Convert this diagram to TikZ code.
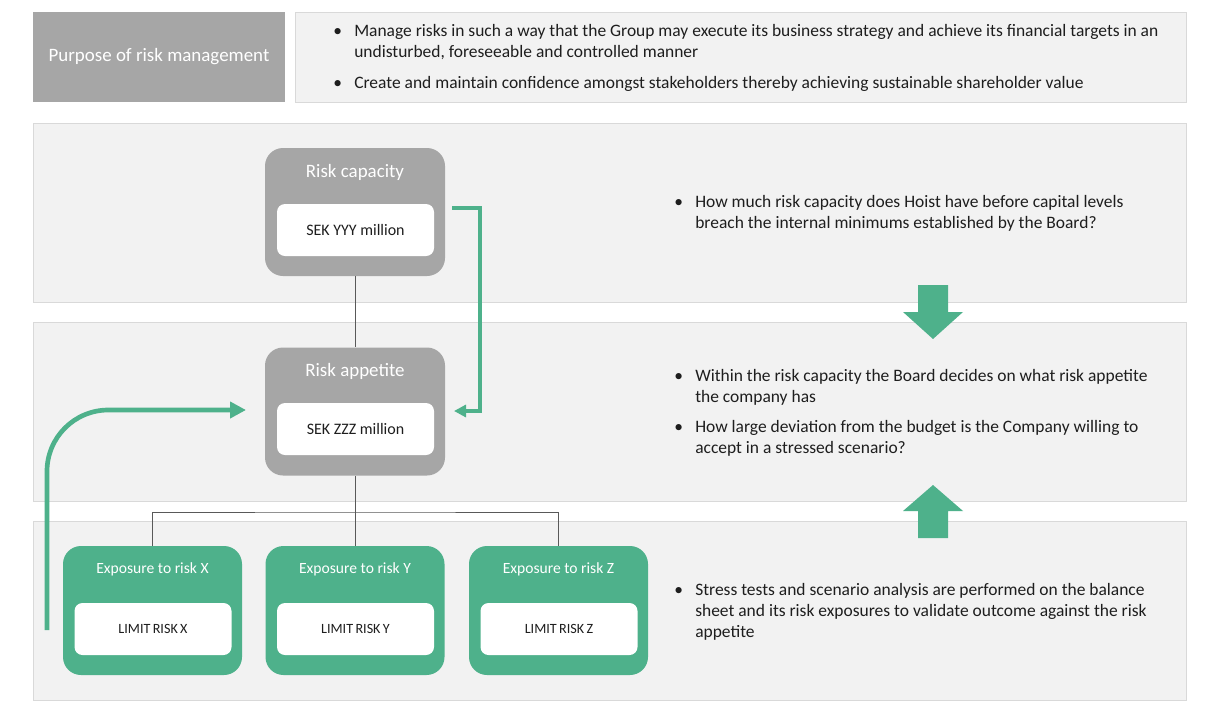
\documentclass[tikz,border=0pt]{standalone}
\usepackage{fontspec}
\setmainfont{Carlito}
\usetikzlibrary{arrows.meta,calc}
\definecolor{grn}{RGB}{78,177,139}
\definecolor{gbox}{RGB}{166,166,166}
\definecolor{bandfill}{RGB}{242,242,242}
\definecolor{bandline}{RGB}{217,217,217}
\definecolor{txt}{RGB}{30,30,30}
\definecolor{conncol}{RGB}{89,89,89}
\begin{document}
\begin{tikzpicture}[x=0.75pt,y=-0.75pt,
  bandbox/.style={draw=bandline, fill=bandfill, line width=0.6pt, inner sep=0pt},
  graybox/.style={fill=gbox, rounded corners=13.5pt, minimum width=180*0.75pt, minimum height=128*0.75pt, inner sep=0pt},
  greenbox/.style={fill=grn, rounded corners=13.5pt, minimum width=179*0.75pt, minimum height=129*0.75pt, inner sep=0pt},
  whitebox/.style={fill=white, rounded corners=6pt, minimum width=157*0.75pt, minimum height=52*0.75pt, inner sep=0pt, text=txt},
  titletext/.style={text=white, inner sep=0pt},
  bodytext/.style={text=txt, align=left, inner sep=0pt, anchor=west, font=\fontsize{13.1}{15.75}\selectfont},
  conn/.style={draw=conncol, line width=0.75pt},
  garrow/.style={draw=grn, line width=3pt, -{Triangle[length=10pt,width=10pt]}},
  blockarrow/.style={fill=grn}
]
\useasboundingbox (0,0) rectangle (1214,711);
\fill[white] (0,0) rectangle (1214,711);

% top row
\node[fill=gbox, minimum width=252*0.75pt, minimum height=90*0.75pt, inner sep=0pt,
      text=white, font=\fontsize{14.2}{16}\selectfont] (purpose) at (159,57) {Purpose of risk management};
\node[bandbox, minimum width=891*0.75pt, minimum height=90*0.75pt] (toppanel) at (740.5,57) {};
\node[bodytext] (t1) at (333,42) {\makebox[15.75pt][l]{•}Manage risks in such a way that the Group may execute its business strategy and achieve its financial targets in an\\\hspace*{15.75pt}undisturbed, foreseeable and controlled manner};
\node[bodytext] (t2) at (333,83.5) {\makebox[15.75pt][l]{•}Create and maintain confidence amongst stakeholders thereby achieving sustainable shareholder value};

% bands
\node[bandbox, minimum width=1153*0.75pt, minimum height=179*0.75pt] (band1) at (609.5,212.5) {};
\node[bandbox, minimum width=1153*0.75pt, minimum height=179*0.75pt] (band2) at (609.5,411.5) {};
\node[bandbox, minimum width=1153*0.75pt, minimum height=179*0.75pt] (band3) at (609.5,610.5) {};

% band texts
\node[bodytext] (b1t) at (674,213) {\makebox[15.75pt][l]{•}How much risk capacity does Hoist have before capital levels\\\hspace*{15.75pt}breach the internal minimums established by the Board?};
\node[bodytext] (b2t1) at (674,387) {\makebox[15.75pt][l]{•}Within the risk capacity the Board decides on what risk appetite\\\hspace*{15.75pt}the company has};
\node[bodytext] (b2t2) at (674,438) {\makebox[15.75pt][l]{•}How large deviation from the budget is the Company willing to\\\hspace*{15.75pt}accept in a stressed scenario?};
\node[bodytext] (b3t) at (674,612) {\makebox[15.75pt][l]{•}Stress tests and scenario analysis are performed on the balance\\\hspace*{15.75pt}sheet and its risk exposures to validate outcome against the risk\\\hspace*{15.75pt}appetite};

% gray boxes
\node[graybox] (cap) at (355,212) {};
\node[titletext, font=\fontsize{14.2}{16}\selectfont] (captitle) at (355,172) {Risk capacity};
\node[whitebox, font=\fontsize{12}{14}\selectfont] (capval) at (355.5,230) {SEK YYY million};

\node[graybox] (app) at (355,411.5) {};
\node[titletext, font=\fontsize{14.2}{16}\selectfont] (apptitle) at (355,371) {Risk appetite};
\node[whitebox, font=\fontsize{12}{14}\selectfont] (appval) at (355.5,429) {SEK ZZZ million};

% green boxes
\foreach \n/\cx/\l in {X/152.5/X, Y/355/Y, Z/558.5/Z}{
  \node[greenbox] (exp\n) at (\cx,610.5) {};
  \node[titletext, font=\fontsize{11.7}{13}\selectfont] (exptitle\n) at (\cx,569) {Exposure to risk \l};
  \node[whitebox, font=\fontsize{10.6}{12}\selectfont] (lim\n) at (\cx+0.5,629) {LIMIT\,RISK\,\l};
}

% connectors
\coordinate (junction) at (355,512);
\draw[conn] (cap.south) -- (app.north);
\draw[conn] (app.south) -- (expY.north);
\draw[conn] (expX.north) |- (junction) -| (expZ.north);

% green arrows
\coordinate (rstart) at (452,208);
\coordinate (rcorner1) at (480,208);
\coordinate (rcorner2) at (480,411);
\coordinate (rend) at (454,411);
\draw[garrow, -{Triangle[length=9pt,width=9pt]}] (rstart) -- (rcorner1) -- (rcorner2) -- (rend);

\coordinate (lstart) at (47,630);
\coordinate (lend) at (246,410);
\draw[garrow, line width=3.5pt, rounded corners=46pt, -{Triangle[length=12pt,width=12pt]}] (lstart) |- (lend);

% block arrows
\fill[blockarrow] (918,285) -- (948,285) -- (948,312) -- (963,312) -- (933,339) -- (903,312) -- (918,312) -- cycle;
\fill[blockarrow] (918,538) -- (948,538) -- (948,511) -- (963,511) -- (933,485) -- (903,511) -- (918,511) -- cycle;
\end{tikzpicture}
\end{document}
